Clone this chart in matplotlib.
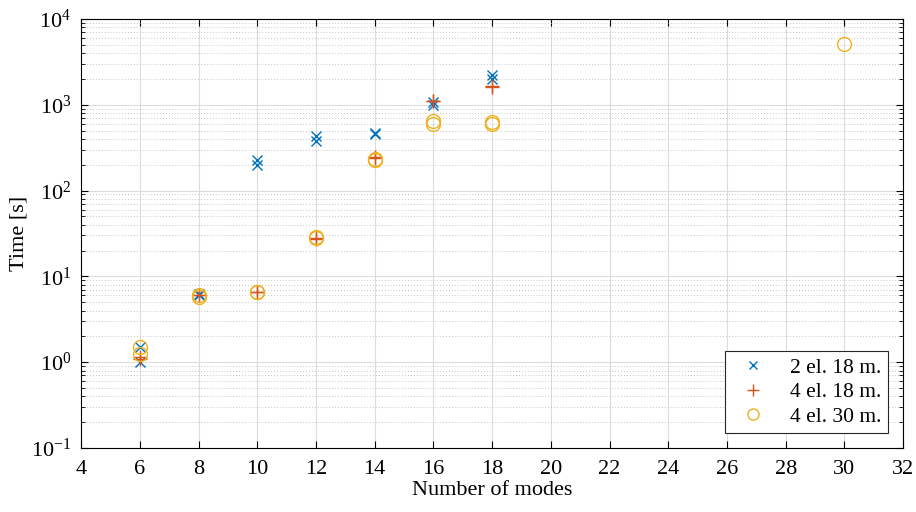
import matplotlib
matplotlib.use("Agg")
import matplotlib.pyplot as plt
from matplotlib.ticker import LogLocator, NullFormatter, MultipleLocator

plt.rcParams['font.family'] = ['Liberation Serif', 'DejaVu Serif']
plt.rcParams['mathtext.fontset'] = 'stix'

modes_a = [6, 6, 8, 8, 10, 10, 12, 12, 14, 14, 16, 16, 18, 18]
time_a = [1.0, 1.5, 6.2, 6.0, 200, 230, 380, 430, 460, 470, 1000, 1080, 2000, 2200]

modes_b = [6, 6, 8, 8, 10, 10, 12, 12, 14, 14, 16, 16, 18, 18]
time_b = [1.1, 1.15, 6.0, 6.1, 6.5, 6.6, 27, 28, 240, 245, 1100, 1120, 1620, 1650]

modes_c = [6, 6, 8, 8, 10, 10, 12, 12, 14, 14, 16, 16, 18, 18, 30]
time_c = [1.5, 1.25, 5.8, 6.0, 6.5, 6.5, 28, 29, 225, 235, 600, 640, 590, 630, 5050]

labels = ['2 el. 18 m.', '4 el. 18 m.', '4 el. 30 m.']

fig = plt.figure(figsize=(9.16, 5.12), dpi=100)
ax = fig.add_axes([0.0885, 0.125, 0.8975, 0.838])

ax.plot(modes_a, time_a, 'x', color='#0072BD', markersize=7, markeredgewidth=1.0, label=labels[0])
ax.plot(modes_b, time_b, '+', color='#D95319', markersize=10, markeredgewidth=1.0, label=labels[1])
ax.plot(modes_c, time_c, 'o', color='#EDB120', markerfacecolor='none', markersize=10, markeredgewidth=1.0, label=labels[2])

ax.set_yscale('log')
ax.set_xlim(4, 32)
ax.set_ylim(0.1, 1e4)
ax.xaxis.set_major_locator(MultipleLocator(2))
ax.yaxis.set_major_locator(LogLocator(base=10, numticks=10))
ax.yaxis.set_minor_locator(LogLocator(base=10, subs=range(2, 10), numticks=20))
ax.yaxis.set_minor_formatter(NullFormatter())

ax.grid(True, which='major', color='#DCDCDC', linewidth=0.8)
ax.grid(True, which='minor', axis='y', color='#B4B4B4', linestyle=(0, (1, 2.5)), linewidth=0.6)
ax.set_axisbelow(True)

ax.tick_params(which='both', direction='in', top=True, right=True, labelsize=16)
ax.tick_params(which='major', length=5, width=0.8)
ax.tick_params(which='minor', length=3, width=0.6)
ax.tick_params(axis='x', which='major', pad=9)
ax.tick_params(axis='y', which='major', pad=7)
for s in ax.spines.values():
    s.set_linewidth(0.8)

ax.set_xlabel('Number of modes', fontsize=16, labelpad=1)
ax.set_ylabel('Time [s]', fontsize=16, labelpad=2)

leg = ax.legend(loc='lower right', bbox_to_anchor=(0.981, 0.035), fontsize=15.5, fancybox=False,
                framealpha=1, edgecolor='#262626', borderpad=0.3, handletextpad=0.7,
                labelspacing=0.2, handlelength=2.0, markerscale=0.8, borderaxespad=0)
leg.get_frame().set_linewidth(0.8)

fig.savefig('out.png', dpi=100)
